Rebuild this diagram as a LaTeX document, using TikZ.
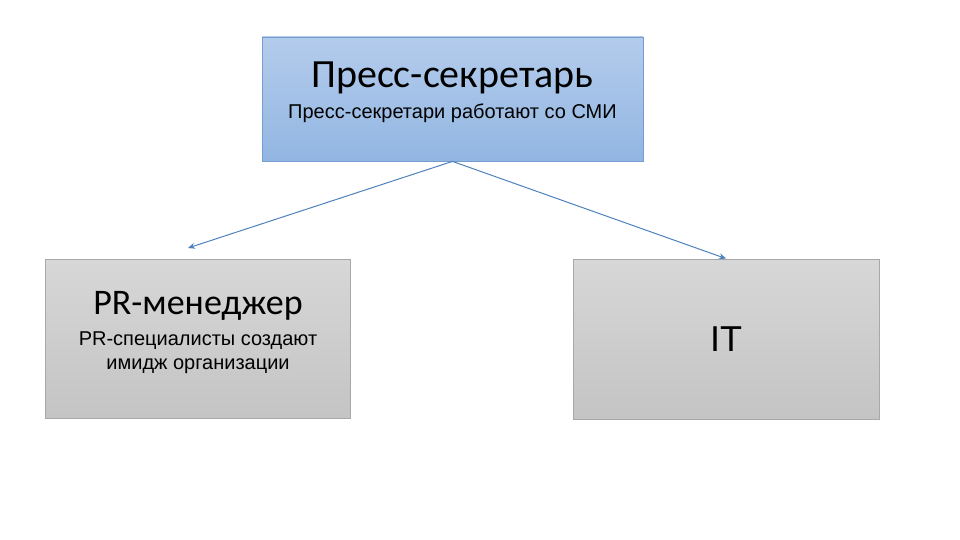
\documentclass[tikz,border=0pt]{standalone}
\usepackage{fontspec}
\setmainfont{Liberation Sans}
\newfontfamily\calib{Carlito}
\usetikzlibrary{arrows.meta}
\definecolor{bluetop}{RGB}{180,204,236}
\definecolor{bluebot}{RGB}{146,182,226}
\definecolor{blueline}{RGB}{118,156,208}
\definecolor{graytop}{RGB}{215,215,215}
\definecolor{graybot}{RGB}{196,196,196}
\definecolor{grayline}{RGB}{168,168,168}
\definecolor{arrowblue}{RGB}{79,129,189}
\tikzset{box/.style={draw, rectangle, line width=0.8pt, inner sep=0pt},
  bluebox/.style={box, draw=blueline, top color=bluetop, bottom color=bluebot},
  graybox/.style={box, draw=grayline, top color=graytop, bottom color=graybot},
  head/.style={font=\calib\fontsize{40}{46}\selectfont, anchor=base, inner sep=0pt},
  sub/.style={font=\fontsize{20}{24}\selectfont, anchor=base, inner sep=0pt, align=center},
  link/.style={->, draw=arrowblue, line width=1pt}}

\begin{document}
\begin{tikzpicture}[x=1pt, y=-1pt, >={Stealth[length=7pt,width=6pt]}]
\useasboundingbox (0,0) rectangle (960,540);
% boxes
\node[bluebox, minimum width=381pt, minimum height=124pt] (press) at (452.5,99) {};
\node[graybox, minimum width=305pt, minimum height=159pt] (pr) at (198,338.5) {};
\node[graybox, minimum width=306pt, minimum height=160pt, font=\fontsize{36}{40}\selectfont] (it) at (726,339) {IT};
% texts
\node[head] (presstitle) at ([yshift=-51pt]press.north) {Пресс-секретарь};
\node[sub] (presstext) at ([yshift=-82pt]press.north) {Пресс-секретари работают со СМИ};
\node[head, font=\calib\fontsize{36}{40}\selectfont] (prtitle) at ([yshift=-56pt]pr.north) {PR-менеджер};
\node[sub] (prtext) at ([yshift=-111pt]pr.north) {PR-специалисты создают\\имидж организации};
% links
\coordinate (prend) at (188,248);
\draw[link] (press.south) -- (prend);
\draw[link] (press.south) -- (it.north);
\end{tikzpicture}
\end{document}
